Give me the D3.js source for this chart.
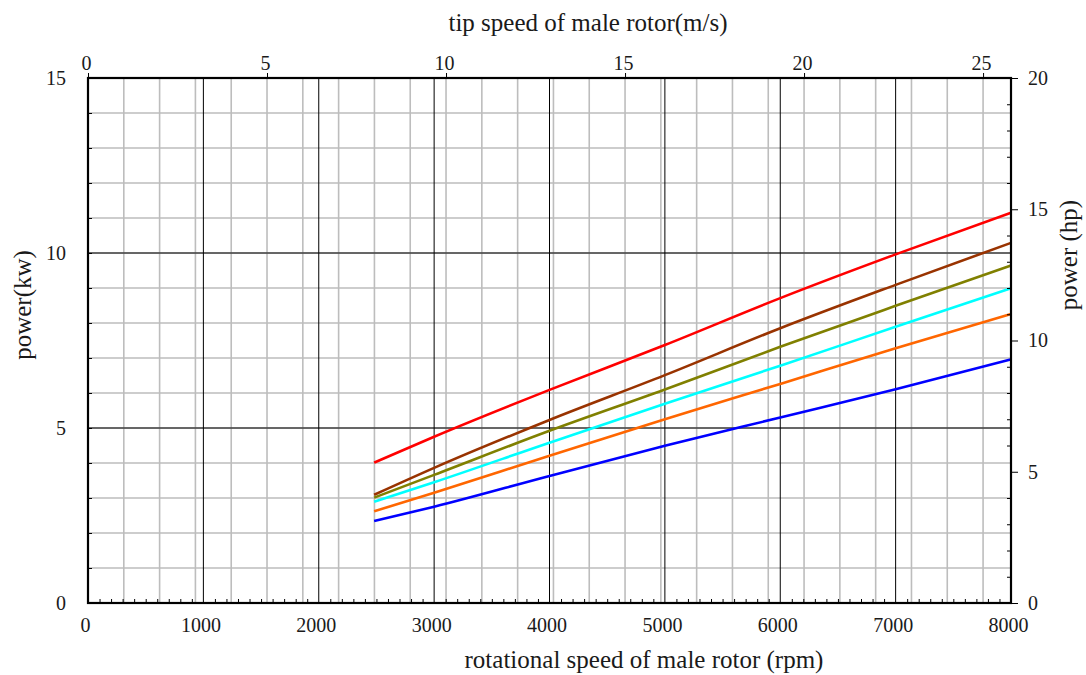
<!DOCTYPE html>
<html>
<head>
<meta charset="utf-8">
<script src="https://cdn.jsdelivr.net/npm/d3@7/dist/d3.min.js"></script>
<style>
    html, body { margin: 0; padding: 0; background: #fff; }
</style>
</head>
<body>
<div id="chart"></div>
<script>
// rotational speed of the male rotor (rpm) where the curves are sampled
var rpm = [2480, 3000, 4000, 5000, 6000, 7000, 8000];

// power (kW) of each curve, top to bottom
var redKw    = [4.01, 4.75, 6.09, 7.37, 8.71, 9.96, 11.15];
var brownKw  = [3.09, 3.86, 5.23, 6.51, 7.85, 9.09, 10.29];
var oliveKw  = [3.01, 3.66, 4.92, 6.10, 7.32, 8.49, 9.64];
var cyanKw   = [2.89, 3.45, 4.58, 5.69, 6.78, 7.89, 8.99];
var orangeKw = [2.62, 3.15, 4.21, 5.25, 6.26, 7.28, 8.26];
var blueKw   = [2.34, 2.75, 3.63, 4.49, 5.30, 6.11, 6.96];

var seriesColors = ['#ff0000', '#993300', '#808000', '#00ffff', '#ff6600', '#0000ff'];

// axis ticks
var rpmTicks = [0, 1000, 2000, 3000, 4000, 5000, 6000, 7000, 8000];
var tipTicks = [0, 5, 10, 15, 20, 25];
var kwTicks = [0, 5, 10, 15];
var hpTicks = [0, 5, 10, 15, 20];

// tip speed (m/s) reached at 8000 rpm, and the hp range of the right axis
var tipSpeedMax = 25.78;
var hpMax = 20;

(function (d3) {
    'use strict';

    var FONT = '"Liberation Serif", "DejaVu Serif", serif';

    var width = 1086,
        height = 675,
        left = 88,
        right = 1011,
        top = 78,
        bottom = 603;

    var svg = d3.select('#chart')
        .append('svg')
        .attr('width', width)
        .attr('height', height)
        .attr('font-family', FONT);

    var x = d3.scaleLinear().domain([0, 8000]).range([left, right]),
        xTip = d3.scaleLinear().domain([0, tipSpeedMax]).range([left, right]),
        y = d3.scaleLinear().domain([0, 15]).range([bottom, top]),
        yHp = d3.scaleLinear().domain([0, hpMax]).range([bottom, top]);

    /**
     * grid: gray every 1 m/s and 1 kW, black every 1000 rpm and 5 kW
     */
    var grid = svg.append('g');

    grid.selectAll('line.gv')
        .data(d3.range(1, 26))
        .enter().append('line')
        .attr('class', 'gv')
        .attr('x1', function (d) { return xTip(d); })
        .attr('x2', function (d) { return xTip(d); })
        .attr('y1', top)
        .attr('y2', bottom)
        .attr('stroke', '#bdbdbd')
        .attr('stroke-width', 1.6);

    grid.selectAll('line.gh')
        .data(d3.range(1, 15))
        .enter().append('line')
        .attr('class', 'gh')
        .attr('x1', left)
        .attr('x2', right)
        .attr('y1', function (d) { return y(d); })
        .attr('y2', function (d) { return y(d); })
        .attr('stroke', '#bdbdbd')
        .attr('stroke-width', 1.6);

    grid.selectAll('line.bv')
        .data(rpmTicks.slice(1, -1))
        .enter().append('line')
        .attr('class', 'bv')
        .attr('x1', function (d) { return x(d); })
        .attr('x2', function (d) { return x(d); })
        .attr('y1', top)
        .attr('y2', bottom)
        .attr('stroke', '#000')
        .attr('stroke-width', 1);

    grid.selectAll('line.bh')
        .data(kwTicks.slice(1, -1))
        .enter().append('line')
        .attr('class', 'bh')
        .attr('x1', left)
        .attr('x2', right)
        .attr('y1', function (d) { return y(d); })
        .attr('y2', function (d) { return y(d); })
        .attr('stroke', '#000')
        .attr('stroke-width', 1);

    /**
     * curves
     */
    var series = [redKw, brownKw, oliveKw, cyanKw, orangeKw, blueKw];
    var line = d3.line()
        .x(function (d, i) { return x(rpm[i]); })
        .y(function (d) { return y(d); })
        .curve(d3.curveMonotoneX);

    svg.append('g')
        .selectAll('path')
        .data(series)
        .enter().append('path')
        .attr('d', line)
        .attr('fill', 'none')
        .attr('stroke', function (d, i) { return seriesColors[i]; })
        .attr('stroke-width', 2.6);

    /**
     * axes
     */
    function tidy(g) {
        g.attr('font-family', FONT).attr('font-size', 20);
        g.select('.domain').remove();
        g.selectAll('text').attr('fill', '#1a1a1a');
        g.selectAll('line').attr('stroke', '#000').attr('stroke-width', 1);
    }

    var plain = d3.format('d');

    // bottom: labels plus inward minor ticks each 100 rpm
    svg.append('g')
        .attr('transform', 'translate(0,' + bottom + ')')
        .call(d3.axisBottom(x).tickValues(rpmTicks).tickFormat(plain).tickSize(0).tickPadding(15))
        .call(tidy)
        .selectAll('text').attr('x', -3);

    svg.append('g')
        .attr('transform', 'translate(0,' + bottom + ')')
        .call(d3.axisBottom(x)
            .tickValues(d3.range(100, 8000, 100).filter(function (d) { return d % 1000; }))
            .tickSize(-4).tickFormat(''))
        .call(tidy);

    // top: tip speed
    svg.append('g')
        .attr('transform', 'translate(0,' + top + ')')
        .call(d3.axisTop(xTip).tickValues(tipTicks).tickFormat(plain).tickSize(5).tickPadding(3))
        .call(tidy)
        .selectAll('text').attr('x', -2);

    // left: kW
    svg.append('g')
        .attr('transform', 'translate(' + left + ',0)')
        .call(d3.axisLeft(y).tickValues(kwTicks).tickFormat(plain).tickSize(0).tickPadding(22))
        .call(tidy);

    svg.append('g')
        .attr('transform', 'translate(' + left + ',0)')
        .call(d3.axisLeft(y).tickValues(d3.range(1, 15)).tickSize(-4).tickFormat(''))
        .call(tidy);

    // right: hp
    svg.append('g')
        .attr('transform', 'translate(' + right + ',0)')
        .call(d3.axisRight(yHp).tickValues(hpTicks).tickFormat(plain).tickSize(7).tickPadding(10))
        .call(tidy);

    svg.append('g')
        .attr('transform', 'translate(' + right + ',0)')
        .call(d3.axisRight(yHp)
            .tickValues(d3.range(1, hpMax).filter(function (d) { return d % 5; }))
            .tickSize(-4).tickFormat(''))
        .call(tidy);

    // frame
    svg.append('rect')
        .attr('x', left)
        .attr('y', top)
        .attr('width', right - left)
        .attr('height', bottom - top)
        .attr('fill', 'none')
        .attr('stroke', '#000')
        .attr('stroke-width', 2.2);

    /**
     * titles
     */
    var titles = svg.append('g')
        .attr('font-size', 25)
        .attr('fill', '#1a1a1a')
        .attr('text-anchor', 'middle');

    titles.append('text')
        .attr('x', 588)
        .attr('y', 31)
        .text('tip speed of male rotor(m/s)');

    titles.append('text')
        .attr('x', 644)
        .attr('y', 668)
        .text('rotational speed of male rotor (rpm)');

    titles.append('text')
        .attr('transform', 'translate(31,305) rotate(-90)')
        .text('power(kw)');

    titles.append('text')
        .attr('transform', 'translate(1077,255) rotate(-90)')
        .text('power (hp)');

})(d3);
</script>
</body>
</html>
